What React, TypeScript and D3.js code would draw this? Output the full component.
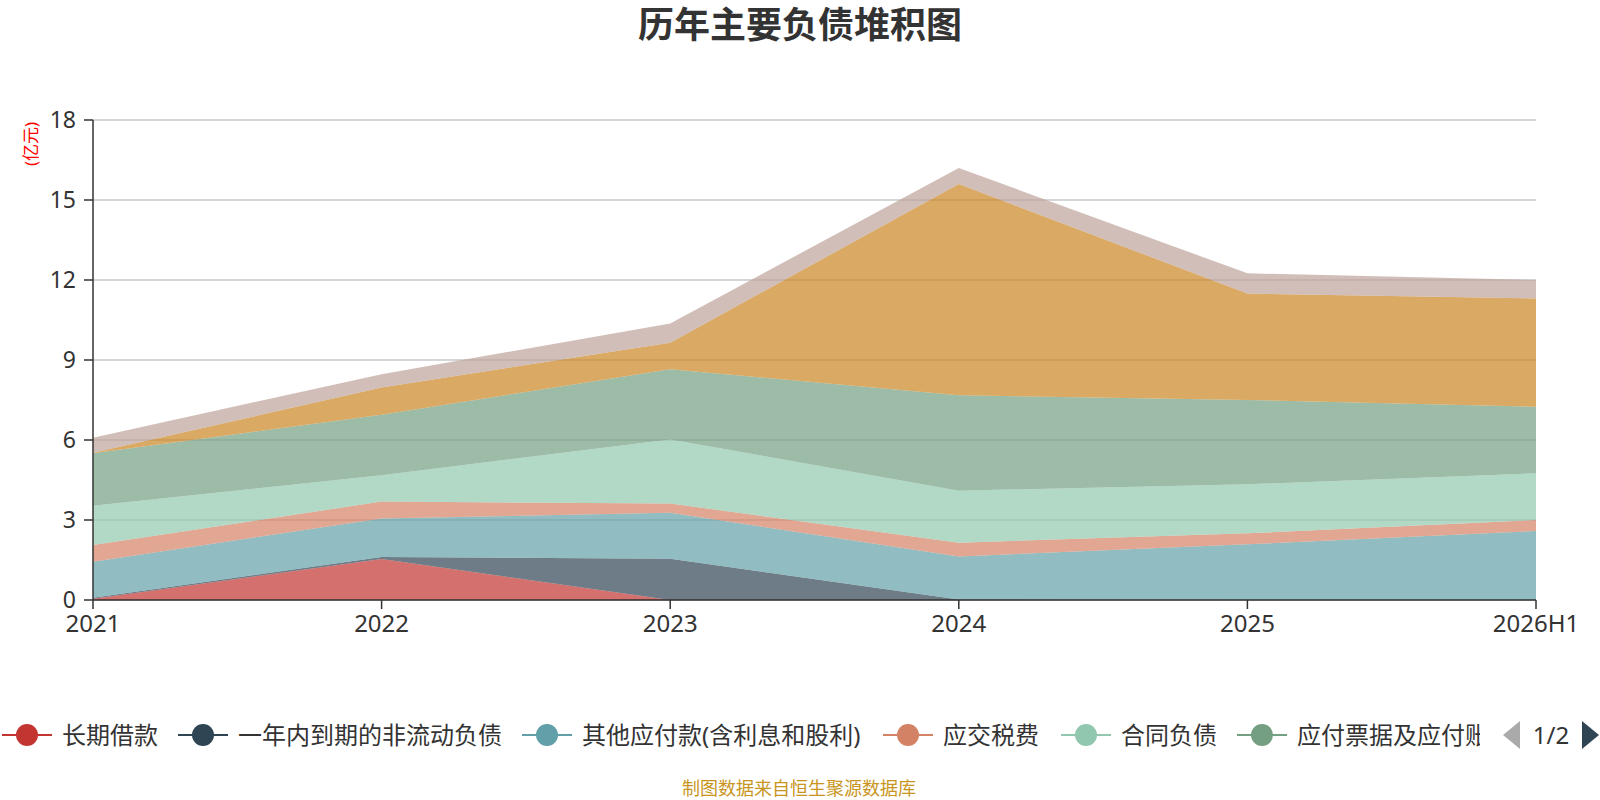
import { useMemo } from "react";
import * as d3 from "d3";

document.body.style.margin = "0";

const years = ["2021", "2022", "2023", "2024", "2025", "2026H1"];

const seriesNames = [
  "长期借款",
  "一年内到期的非流动负债",
  "其他应付款(含利息和股利)",
  "应交税费",
  "合同负债",
  "应付票据及应付账款",
  "短期借款",
  "应付职工薪酬",
];

const seriesColors = [
  "#c23531",
  "#2f4554",
  "#61a0a8",
  "#d48265",
  "#91c7ae",
  "#749f83",
  "#ca8622",
  "#bda29a",
];

// 亿元, one array per series, year order as above
const longLoan = [0.05, 1.54, 0, 0, 0, 0];
const currentNonCurrent = [0.03, 0.07, 1.55, 0.02, 0, 0];
const otherPayables = [1.35, 1.45, 1.72, 1.61, 2.09, 2.59];
const taxesPayable = [0.63, 0.63, 0.35, 0.52, 0.41, 0.41];
const contractLiab = [1.47, 0.99, 2.4, 1.95, 1.84, 1.75];
const notesPayable = [1.97, 2.27, 2.63, 3.58, 3.16, 2.5];
const shortLoan = [0.02, 1.02, 1.0, 7.92, 3.99, 4.06];
const staffPay = [0.56, 0.5, 0.72, 0.6, 0.76, 0.69];

const seriesValues = [
  longLoan,
  currentNonCurrent,
  otherPayables,
  taxesPayable,
  contractLiab,
  notesPayable,
  shortLoan,
  staffPay,
];

const yTicks = [0, 3, 6, 9, 12, 15, 18];

const W = 1600;
const H = 800;
const M = { left: 93, right: 64, top: 120, bottom: 200 };
const FONT = "'Noto Sans', 'Noto Sans CJK SC', sans-serif";

// legend item start positions (page 1 of 2)
const legendX = [2, 178, 522, 883, 1061, 1237];

export default function App() {
  const x = d3
    .scalePoint<string>()
    .domain(years)
    .range([M.left, W - M.right]);
  const y = d3
    .scaleLinear()
    .domain([0, 18])
    .range([H - M.bottom, M.top]);

  const layers = useMemo(() => {
    const rows = years.map((yr, i) => {
      const r: any = { year: yr };
      seriesNames.forEach((n, k) => (r[n] = seriesValues[k][i]));
      return r;
    });
    return d3.stack().keys(seriesNames)(rows);
  }, []);

  const area = d3
    .area<any>()
    .x((d) => x(d.data.year) as number)
    .y0((d) => y(d[0]))
    .y1((d) => y(d[1]));

  const legendY = 735;

  return (
    <svg width={W} height={H} style={{ display: "block" }} fontFamily={FONT}>
      <defs>
        <clipPath id="legendClip">
          <rect x={0} y={700} width={1480} height={70} />
        </clipPath>
      </defs>

      <text
        x={800}
        y={38}
        textAnchor="middle"
        fontSize={36}
        fontWeight="bold"
        fill="#333"
      >
        历年主要负债堆积图
      </text>

      <text
        transform={`translate(37, 144) rotate(-90)`}
        textAnchor="middle"
        fontSize={17}
        fill="#ff0000"
      >
        (亿元)
      </text>

      {/* grid */}
      {yTicks.map((t) => (
        <line
          key={t}
          x1={M.left}
          x2={W - M.right}
          y1={y(t)}
          y2={y(t)}
          stroke="#c8c8c8"
          strokeWidth={1.5}
        />
      ))}

      {/* stacked areas */}
      {layers.map((layer, i) => (
        <path
          key={layer.key}
          d={area(layer) || ""}
          fill={seriesColors[i]}
          fillOpacity={0.7}
        />
      ))}

      {/* y axis */}
      <line
        x1={M.left}
        x2={M.left}
        y1={M.top}
        y2={H - M.bottom}
        stroke="#333"
        strokeWidth={1.5}
      />
      {yTicks.map((t) => (
        <g key={t} transform={`translate(${M.left}, ${y(t)})`}>
          <line x1={-9} x2={0} stroke="#333" strokeWidth={1.5} />
          <text
            x={-17}
            dy="0.36em"
            textAnchor="end"
            fontSize={23}
            fill="#333"
          >
            {t}
          </text>
        </g>
      ))}

      {/* x axis */}
      <line
        x1={M.left}
        x2={W - M.right}
        y1={H - M.bottom}
        y2={H - M.bottom}
        stroke="#333"
        strokeWidth={1.5}
      />
      {years.map((yr) => (
        <g key={yr} transform={`translate(${x(yr)}, ${H - M.bottom})`}>
          <line y1={0} y2={9} stroke="#333" strokeWidth={1.5} />
          <text y={23} dy="0.36em" textAnchor="middle" fontSize={24} fill="#333">
            {yr}
          </text>
        </g>
      ))}

      {/* legend */}
      <g clipPath="url(#legendClip)">
        {legendX.map((lx, i) => (
          <g key={seriesNames[i]} transform={`translate(${lx}, ${legendY})`}>
            <line x1={0} x2={50} stroke={seriesColors[i]} strokeWidth={2} />
            <circle cx={25} cy={0} r={11} fill={seriesColors[i]} />
            <text x={60} dy="0.36em" fontSize={24} fill="#333">
              {seriesNames[i]}
            </text>
          </g>
        ))}
      </g>
      <path d="M1520,721 L1520,749 L1503,735 Z" fill="#aaa" />
      <text x={1551} y={735} dy="0.36em" textAnchor="middle" fontSize={24} fill="#333">
        1/2
      </text>
      <path d="M1582,721 L1582,749 L1599,735 Z" fill="#2f4554" />

      <text
        x={799}
        y={789}
        dy="0.36em"
        textAnchor="middle"
        fontSize={18}
        fill="#c8961e"
      >
        制图数据来自恒生聚源数据库
      </text>
    </svg>
  );
}
